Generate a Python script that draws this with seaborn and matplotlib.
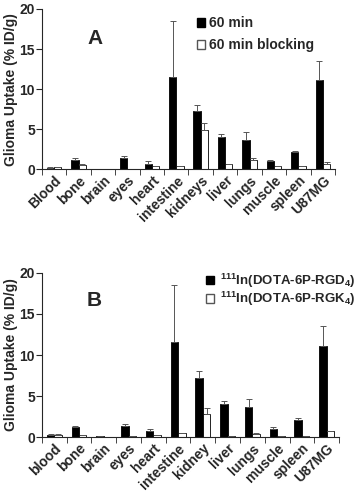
import matplotlib
matplotlib.use('Agg')
import matplotlib.pyplot as plt
import seaborn as sns
import pandas as pd
import numpy as np
from matplotlib.patches import Patch

sns.set_style('ticks')
plt.rcParams['font.family'] = ['Liberation Sans', 'DejaVu Sans']
plt.rcParams['font.weight'] = 'bold'
plt.rcParams['mathtext.fontset'] = 'custom'
plt.rcParams['mathtext.rm'] = 'Liberation Sans:bold'
plt.rcParams['mathtext.bf'] = 'Liberation Sans:bold'

# panel A
organs_a = ['Blood', 'bone', 'brain', 'eyes', 'heart', 'intestine', 'kidneys',
            'liver', 'lungs', 'muscle', 'spleen', 'U87MG']
a_60 = [0.2, 1.1, 0.05, 1.4, 0.7, 11.5, 7.2, 4.0, 3.7, 1.0, 2.1, 11.1]
a_60_err = [0.1, 0.3, 0.0, 0.25, 0.3, 7.0, 0.8, 0.4, 0.9, 0.2, 0.2, 2.4]
a_block = [0.3, 0.5, 0.05, 0.05, 0.35, 0.4, 4.9, 0.6, 1.1, 0.35, 0.45, 0.6]
a_block_err = [0.0, 0.15, 0.0, 0.0, 0.0, 0.0, 0.9, 0.0, 0.3, 0.05, 0.0, 0.25]
series_a = ['60 min', '60 min blocking']

# panel B
organs_b = ['blood', 'bone', 'brain', 'eyes', 'heart', 'intestine', 'kidney',
            'liver', 'lungs', 'muscle', 'spleen', 'U87MG']
b_rgd = [0.3, 1.2, 0.1, 1.4, 0.7, 11.6, 7.2, 4.0, 3.7, 1.0, 2.1, 11.1]
b_rgd_err = [0.1, 0.2, 0.0, 0.25, 0.3, 6.9, 0.8, 0.4, 0.9, 0.25, 0.2, 2.4]
b_rgk = [0.25, 0.2, 0.05, 0.15, 0.2, 0.55, 2.8, 0.15, 0.4, 0.15, 0.15, 0.75]
b_rgk_err = [0.1, 0.0, 0.0, 0.0, 0.0, 0.0, 0.7, 0.0, 0.1, 0.0, 0.0, 0.0]
series_b = [r'$^{111}$In(DOTA-6P-RGD$_4$)', r'$^{111}$In(DOTA-6P-RGK$_4$)']


def panel(ax, organs, v1, e1, v2, e2, names, letter, letpos, legpos, legspace,
          legsize, textpad):
    df = pd.DataFrame({'organ': organs * 2,
                       'uptake': v1 + v2,
                       'group': [names[0]] * len(organs) + [names[1]] * len(organs)})
    sns.barplot(data=df, x='organ', y='uptake', hue='group', ax=ax,
                palette=['black', 'white'], edgecolor='black', linewidth=0.6,
                width=0.6, errorbar=None, legend=False)
    for cont, err in zip(ax.containers, [e1, e2]):
        xs = [b.get_x() + b.get_width() / 2 for b in cont]
        hs = [b.get_height() for b in cont]
        ax.errorbar(xs, hs, yerr=[np.zeros(len(err)), err], fmt='none',
                    ecolor='#555555', elinewidth=0.7, capsize=2, capthick=0.7)
    ax.set_ylim(0, 20)
    ax.set_xlim(-0.5, len(organs) - 0.5)
    ax.set_yticks([0, 5, 10, 15, 20])
    ax.set_xlabel('')
    ax.set_ylabel('Glioma Uptake (% ID/g)', fontsize=10, fontweight='bold',
                  labelpad=1)
    ax.tick_params(axis='x', which='major', length=0, labelsize=10, pad=3)
    ax.set_xticks(np.arange(len(organs) + 1) - 0.5, minor=True)
    ax.tick_params(axis='x', which='minor', length=4, direction='out')
    ax.tick_params(axis='y', labelsize=10, length=4, direction='out', pad=1)
    plt.setp(ax.get_xticklabels(), rotation=45, ha='right',
             rotation_mode='anchor', fontweight='bold')
    plt.setp(ax.get_yticklabels(), fontweight='bold')
    sns.despine(ax=ax)
    ax.text(letpos[0], letpos[1], letter, transform=ax.transAxes, fontsize=15,
            fontweight='bold')
    handles = [Patch(facecolor='black', edgecolor='black'),
               Patch(facecolor='white', edgecolor='#555555')]
    ax.legend(handles, names, loc='upper left', bbox_to_anchor=legpos,
              frameon=False, fontsize=legsize, handlelength=0.6,
              handleheight=0.6, handletextpad=textpad, labelspacing=legspace,
              borderaxespad=0)


fig = plt.figure(figsize=(3.58, 4.99), dpi=100)
ax1 = fig.add_axes([0.117, 0.661, 0.819, 0.321])
ax2 = fig.add_axes([0.117, 0.124, 0.830, 0.329])

panel(ax1, organs_a, a_60, a_60_err, a_block, a_block_err, series_a, 'A',
      (0.155, 0.78), (0.51, 0.99), 0.6, 10, 0.3)
panel(ax2, organs_b, b_rgd, b_rgd_err, b_rgk, b_rgk_err, series_b, 'B',
      (0.15, 0.80), (0.535, 1.04), 0.0, 9.5, 0.45)

fig.savefig('out.png', dpi=100)
